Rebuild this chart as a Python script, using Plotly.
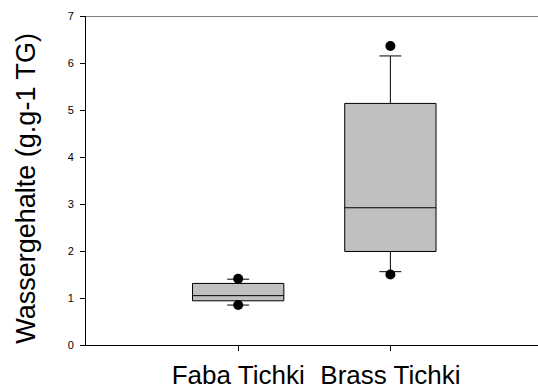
import plotly.graph_objects as go

# Summary statistics per group
groups = ["Faba Tichki", "Brass Tichki"]
q1 = [0.94, 1.99]
median = [1.05, 2.92]
q3 = [1.31, 5.14]
lower_whisker = [0.85, 1.56]
upper_whisker = [1.40, 6.15]

# Points beyond the whiskers (5th / 95th percentile markers)
outlier_x = ["Faba Tichki", "Faba Tichki", "Brass Tichki", "Brass Tichki"]
outlier_y = [1.41, 0.85, 6.36, 1.50]

y_ticks = [0, 1, 2, 3, 4, 5, 6, 7]

FONT = "Liberation Sans, Arial, sans-serif"

fig = go.Figure()

fig.add_trace(go.Box(
    x=groups,
    q1=q1,
    median=median,
    q3=q3,
    lowerfence=lower_whisker,
    upperfence=upper_whisker,
    boxpoints=False,
    width=0.6,
    whiskerwidth=0.24,
    fillcolor="#c0c0c0",
    line=dict(color="#000000", width=1),
    showlegend=False,
    hoverinfo="skip",
))

fig.add_trace(go.Scatter(
    x=outlier_x,
    y=outlier_y,
    mode="markers",
    marker=dict(color="#000000", size=10),
    showlegend=False,
    hoverinfo="skip",
))

# Grey frame line along the top of the plot area
fig.add_shape(type="line", xref="paper", yref="y", x0=0, x1=1, y0=7, y1=7,
              line=dict(color="#808080", width=2))

# Y-axis title placed as a rotated annotation
fig.add_annotation(
    text="Wassergehalte (g.g-1 TG)",
    textangle=-90,
    xref="paper", yref="paper",
    x=0, y=0.475,
    xshift=-60,
    xanchor="center", yanchor="middle",
    showarrow=False,
    font=dict(size=27, family=FONT, color="#000000"),
)

fig.update_layout(
    width=538,
    height=391,
    margin=dict(l=86, r=0, t=16, b=46),
    plot_bgcolor="white",
    paper_bgcolor="white",
    font=dict(family=FONT, color="#000000"),
)

fig.update_xaxes(
    type="category",
    categoryorder="array",
    categoryarray=groups,
    range=[-1, 1.97],
    showline=True,
    linecolor="#000000",
    linewidth=1,
    ticks="outside",
    ticklen=5,
    tickcolor="#000000",
    showgrid=False,
    zeroline=False,
    automargin=False,
    ticklabelstandoff=2,
    tickfont=dict(size=26, family=FONT),
)

fig.update_yaxes(
    range=[0, 7],
    tickvals=y_ticks,
    showline=True,
    linecolor="#000000",
    linewidth=1,
    ticks="outside",
    ticklen=5,
    tickcolor="#000000",
    showgrid=False,
    zeroline=False,
    automargin=False,
    ticklabelstandoff=4,
    tickfont=dict(size=11, family=FONT),
)

fig.write_html("out.html")
